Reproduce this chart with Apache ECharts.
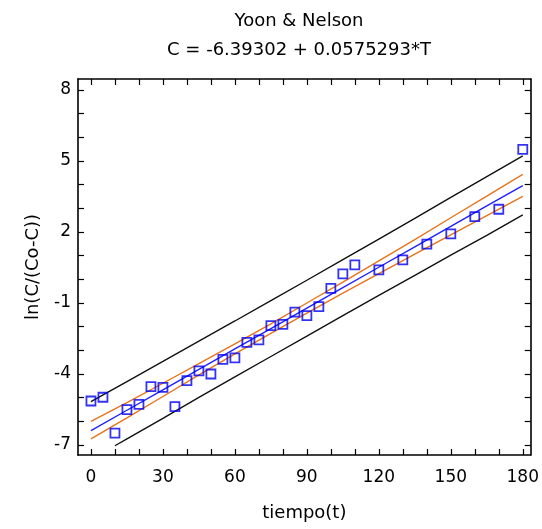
<!DOCTYPE html>
<html>
<head>
<meta charset="utf-8">
<script src="https://cdn.jsdelivr.net/npm/echarts@6/dist/echarts.min.js"></script>
<style>html,body{margin:0;padding:0;background:#fff;}#c{width:542px;height:529px;}</style>
</head>
<body>
<div id="c"></div>
<script>
// observed points
var tData = [0,5,10,15,20,25,30,35,40,45,50,55,60,65,70,75,80,85,90,95,100,105,110,120,130,140,150,160,170,180];
var yData = [-5.14,-4.98,-6.50,-5.50,-5.28,-4.53,-4.56,-5.38,-4.28,-3.87,-4.00,-3.38,-3.32,-2.66,-2.56,-1.96,-1.90,-1.39,-1.53,-1.15,-0.38,0.23,0.61,0.40,0.82,1.49,1.92,2.65,2.96,5.49];
// fitted line and limits (read at these times)
var bandT = [0,15,30,45,60,75,90,105,120,135,150,165,180];
var fitLine = [-6.39,-5.53,-4.67,-3.80,-2.94,-2.08,-1.22,-0.35,0.51,1.37,2.24,3.10,3.96];
var upperConf = [-6.00,-5.21,-4.39,-3.56,-2.73,-1.88,-1.00,-0.12,0.78,1.68,2.60,3.51,4.43];
var lowerConf = [-6.74,-5.85,-4.95,-4.04,-3.15,-2.28,-1.43,-0.58,0.24,1.06,1.88,2.69,3.50];
var upperPred = [-5.17,-4.32,-3.47,-2.61,-1.76,-0.90,-0.04,0.83,1.70,2.57,3.46,4.34,5.21];
var lowerPredT = [10,15,30,45,60,75,90,105,120,135,150,165,180];
var lowerPred = [-7.03,-6.74,-5.87,-4.99,-4.12,-3.26,-2.40,-1.53,-0.68,0.17,1.02,1.86,2.72];
// ticks
var xLabels = [0,30,60,90,120,150,180];
var xTicks = [0,10,20,30,40,50,60,70,80,90,100,110,120,130,140,150,160,170,180];
var yLabels = [-7,-4,-1,2,5,8];
var yTicks = [-7,-6,-5,-4,-3,-2,-1,0,1,2,3,4,5,6,7,8];

function pairs(xs, ys){ return xs.map(function(x,i){ return [x, ys[i]]; }); }

var FONT = 'DejaVu Sans';
var XMIN = -5.4, XMAX = 183.3, YMIN = -7.42, YMAX = 8.46;
var lineAx = {show:true, onZero:false, lineStyle:{color:'#000', width:1.6}};
function xAx(pos, labels){
  return {type:'value', position:pos, min:XMIN, max:XMAX,
    axisLine:lineAx,
    axisTick:{show:true, inside:true, length:6, customValues:xTicks, lineStyle:{color:'#000', width:1.2}},
    axisLabel:{show:labels, customValues:xLabels, fontFamily:FONT, fontSize:17, color:'#000', margin:14},
    splitLine:{show:false},
    name: labels ? 'tiempo(t)' : '', nameLocation:'middle', nameGap:49,
    nameTextStyle:{fontFamily:FONT, fontSize:18, color:'#000'}};
}
function yAx(pos, labels){
  return {type:'value', position:pos, min:YMIN, max:YMAX,
    axisLine:lineAx,
    axisTick:{show:true, inside:true, length:6, customValues:yTicks, lineStyle:{color:'#000', width:1.2}},
    axisLabel:{show:labels, customValues:yLabels, fontFamily:FONT, fontSize:17, color:'#000', margin:7},
    splitLine:{show:false},
    name: labels ? 'ln(C/(Co-C))' : '', nameLocation:'middle', nameGap:36, nameRotate:90,
    nameTextStyle:{fontFamily:FONT, fontSize:18, color:'#000'}};
}

var chart = echarts.init(document.getElementById('c'), null, {renderer:'canvas'});
chart.setOption({
  animation:false,
  backgroundColor:'#fff',
  title:[
    {text:'Yoon & Nelson', left:294, top:7, textAlign:'center',
     textStyle:{fontFamily:FONT, fontSize:18, fontWeight:'normal', color:'#000'}},
    {text:'C = -6.39302 + 0.0575293*T', left:294, top:36, textAlign:'center',
     textStyle:{fontFamily:FONT, fontSize:18, fontWeight:'normal', color:'#000'}}
  ],
  grid:{left:78, right:9, top:79, bottom:74, containLabel:false},
  xAxis:[xAx('bottom', true), xAx('top', false)],
  yAxis:[yAx('left', true), yAx('right', false)],
  series:[
    {type:'line', data:pairs(bandT, upperPred), showSymbol:false, symbol:'none', lineStyle:{color:'#111', width:1.4}, z:2},
    {type:'line', data:pairs(lowerPredT, lowerPred), showSymbol:false, symbol:'none', lineStyle:{color:'#111', width:1.4}, z:2},
    {type:'line', data:pairs(bandT, upperConf), showSymbol:false, symbol:'none', lineStyle:{color:'#e8731a', width:1.4}, z:2},
    {type:'line', data:pairs(bandT, lowerConf), showSymbol:false, symbol:'none', lineStyle:{color:'#e8731a', width:1.4}, z:2},
    {type:'line', data:pairs(bandT, fitLine), showSymbol:false, symbol:'none', lineStyle:{color:'#2020ff', width:1.4}, z:3},
    {type:'scatter', data:pairs(tData, yData), symbol:'rect', symbolSize:9,
     itemStyle:{color:'rgba(0,0,0,0)', borderColor:'#0000f0', borderWidth:1.8}, z:4}
  ]
});
</script>
</body>
</html>
